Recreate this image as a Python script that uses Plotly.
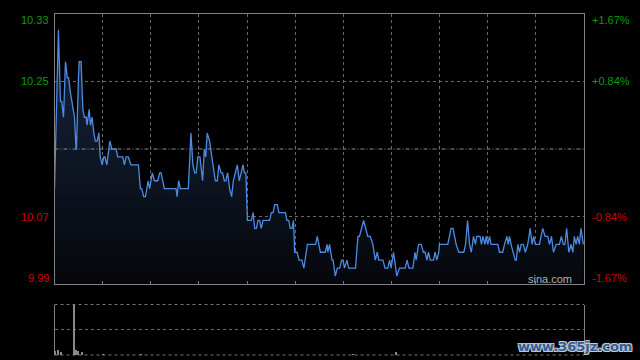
import plotly.graph_objects as go

# ---- data ----
minutes = [
    0.0, 1.8, 2.7, 3.3, 4.1, 5.0, 5.8, 6.4, 7.3, 8.3, 9.1, 9.8, 10.0, 10.9, 11.2, 12.1, 12.9, 13.6,
    14.4, 14.8, 15.8, 16.4, 17.1, 17.9, 18.6, 19.4, 20.2, 20.8, 21.7, 22.4, 23.0, 23.8, 25.2, 26.1,
    28.0, 28.8, 31.1, 31.8, 32.6, 33.6, 34.8, 38.2, 39.1, 39.7, 40.6, 41.4, 42.6, 43.3, 44.5, 45.5,
    47.0, 47.9, 48.5, 50.0, 55.3, 55.8, 56.5, 57.3, 60.9, 62.1, 63.0, 63.8, 64.5, 65.2, 66.2, 67.4,
    68.2, 68.8, 69.5, 70.6, 72.1, 73.2, 74.1, 74.8, 75.8, 76.5, 77.3, 78.0, 78.8, 79.7, 80.6, 81.4,
    82.3, 83.2, 84.1, 84.8, 85.8, 86.4, 87.1, 87.8, 89.6, 90.4, 91.1, 91.9, 92.6, 93.4, 94.1, 94.9,
    97.9, 98.7, 99.5, 100.2, 101.4, 102.2, 105.1, 105.8, 106.6, 107.3, 108.1, 108.8, 109.3, 110.4,
    111.3, 112.6, 113.5, 115.1, 118.8, 119.6, 121.0, 123.2, 124.1, 124.4, 125.2, 126.3, 126.8, 127.8,
    128.7, 129.8, 130.7, 131.3, 132.0, 133.1, 133.9, 137.0, 138.1, 138.8, 140.7, 142.6, 143.7, 144.9,
    146.0, 146.9, 147.6, 149.5, 150.4, 151.7, 152.5, 153.2, 154.3, 155.8, 157.0, 159.6, 160.5, 161.3,
    163.1, 164.1, 164.6, 165.7, 166.9, 167.9, 168.7, 169.5, 170.2, 171.0, 172.5, 173.2, 174.0, 174.9,
    175.2, 179.0, 180.5, 181.4, 182.1, 182.8, 184.0, 186.3, 187.1, 188.0, 188.9, 189.7, 190.7, 191.6,
    192.2, 193.7, 194.3, 195.0, 195.9, 196.5, 197.2, 198.0, 198.7, 201.8, 202.5, 204.0, 204.8, 205.9,
    206.5, 207.1, 207.8, 208.6, 209.7, 210.2, 210.9, 211.6, 212.4, 213.4, 214.3, 215.4, 216.5, 217.4,
    218.1, 218.9, 220.7, 222.2, 223.3, 224.5, 225.3, 226.2, 227.1, 228.3, 229.8, 230.7, 231.6, 232.3,
    233.1, 234.1, 235.1, 235.9, 236.6, 237.4, 238.1, 238.9, 239.6, 240.7,
]
prices = [
    10.11, 10.31, 10.22, 10.22, 10.20, 10.27, 10.25, 10.25, 10.23, 10.21, 10.20, 10.16, 10.16, 10.25, 10.27, 10.27, 10.21, 10.20,
    10.20, 10.19, 10.21, 10.19, 10.20, 10.18, 10.17, 10.17, 10.18, 10.15, 10.14, 10.15, 10.15, 10.14, 10.17, 10.16,
    10.16, 10.15, 10.15, 10.14, 10.15, 10.15, 10.14, 10.14, 10.11, 10.11, 10.10, 10.10, 10.12, 10.11, 10.13, 10.12,
    10.12, 10.13, 10.13, 10.11, 10.11, 10.10, 10.12, 10.11, 10.11, 10.18, 10.14, 10.13, 10.13, 10.15, 10.15, 10.12,
    10.16, 10.15, 10.18, 10.17, 10.14, 10.12, 10.12, 10.14, 10.13, 10.13, 10.12, 10.12, 10.13, 10.11, 10.10, 10.12,
    10.13, 10.14, 10.12, 10.13, 10.14, 10.13, 10.13, 10.07, 10.07, 10.08, 10.06, 10.06, 10.07, 10.07, 10.06, 10.07,
    10.07, 10.08, 10.08, 10.09, 10.09, 10.08, 10.08, 10.07, 10.07, 10.06, 10.06, 10.07, 10.03, 10.03,
    10.02, 10.02, 10.01, 10.04, 10.04, 10.05, 10.03, 10.03, 10.04, 10.03, 10.04, 10.02, 10.02, 10.00,
    10.01, 10.01, 10.02, 10.02, 10.01, 10.02, 10.01, 10.01, 10.05, 10.05, 10.07, 10.05, 10.05, 10.04,
    10.02, 10.03, 10.02, 10.02, 10.01, 10.01, 10.02, 10.01, 10.03, 10.00, 10.01, 10.01, 10.02, 10.01,
    10.01, 10.03, 10.02, 10.04, 10.04, 10.03, 10.03, 10.02, 10.03, 10.02, 10.02, 10.03, 10.02, 10.03,
    10.04, 10.04, 10.06, 10.06, 10.05, 10.04, 10.03, 10.03, 10.04, 10.07, 10.04, 10.03, 10.05, 10.04,
    10.05, 10.05, 10.04, 10.05, 10.04, 10.05, 10.04, 10.05, 10.04, 10.04, 10.03, 10.03, 10.04, 10.05,
    10.04, 10.05, 10.04, 10.03, 10.02, 10.02, 10.04, 10.03, 10.04, 10.04, 10.03, 10.04, 10.06, 10.04,
    10.05, 10.04, 10.04, 10.06, 10.05, 10.05, 10.04, 10.05, 10.03, 10.04, 10.04, 10.05, 10.04, 10.04,
    10.06, 10.03, 10.04, 10.03, 10.05, 10.04, 10.05, 10.04, 10.06, 10.04,
]
vol_minutes = [0.0, 1.3, 2.6, 8.6, 9.5, 10.6, 12.2, 22.0, 39.0, 135.5, 155.3]
volumes = [8, 10, 6, 100, 10, 8, 6, 3, 3, 3, 6]

prev_close = 10.16
price_min, price_max = 9.99, 10.33
grid_prices = [10.075, 10.245]
left_labels = ["10.33", "10.25", "10.07", "9.99"]
right_labels = ["+1.67%", "+0.84%", "-0.84%", "-1.67%"]
label_prices = [10.33, 10.245, 10.075, 9.99]
label_colors = ["#0a9e0a", "#0a9e0a", "#d00000", "#d00000"]
n_minutes = 241

W, H = 640, 360
FONT = "Liberation Sans, Arial, sans-serif"

fig = go.Figure()
fig.add_trace(go.Scatter(
    x=minutes, y=prices, mode="lines",
    line=dict(color="#4d8be2", width=1.3),
    fill="tozeroy",
    fillgradient=dict(type="vertical", start=price_min, stop=price_max - 0.02,
                      colorscale=[[0, "#05070b"], [1, "#17263f"]]),
    xaxis="x", yaxis="y", hoverinfo="skip", showlegend=False,
))
fig.add_trace(go.Bar(
    x=vol_minutes, y=volumes, width=0.45,
    marker=dict(color="#8a8a8a", line=dict(width=0)),
    xaxis="x2", yaxis="y2", hoverinfo="skip", showlegend=False,
))

xdom = [54.5 / W, 584 / W]
grid_x = [n_minutes * k / 11 for k in range(1, 11)]
fig.update_layout(
    width=W, height=H,
    margin=dict(l=0, r=0, t=0, b=0),
    paper_bgcolor="black", plot_bgcolor="black",
    xaxis=dict(domain=xdom, range=[0, n_minutes], tickvals=grid_x, showticklabels=False,
               showgrid=True, gridcolor="#6a6a6a", griddash="dot", gridwidth=1,
               ticks="inside", ticklen=3, tickcolor="#777",
               showline=True, linecolor="#808080", linewidth=1, mirror=True, zeroline=False),
    yaxis=dict(domain=[1 - 284 / H, 1 - 14 / H], range=[price_min, price_max],
               tickvals=grid_prices, showticklabels=False,
               showgrid=True, gridcolor="#6a6a6a", griddash="dot", gridwidth=1,
               showline=True, linecolor="#808080", linewidth=1, mirror=True, zeroline=False),
    xaxis2=dict(domain=xdom, range=[0, n_minutes], anchor="y2", showticklabels=False,
                showgrid=False, zeroline=False, showline=False),
    yaxis2=dict(domain=[1 - 355 / H, 1 - 304.5 / H], range=[0, 100], anchor="x2",
                tickvals=[50], showticklabels=False,
                showgrid=True, gridcolor="#6a6a6a", griddash="dot", gridwidth=1,
                showline=True, linecolor="#808080", linewidth=1, mirror=True, zeroline=False),
    bargap=0,
)
# previous close line
fig.add_shape(type="line", xref="x", yref="y", x0=0, x1=n_minutes, y0=prev_close, y1=prev_close,
              line=dict(color="#8a8a8a", width=1, dash="4px,2px,1px,2px"))
# volume panel top / bottom dotted frame lines
for yv in (0, 1):
    fig.add_shape(type="line", xref="x2 domain", yref="y2 domain", x0=0, x1=1, y0=yv, y1=yv,
                  line=dict(color="#777777", width=1, dash="dot"), layer="below")

shifts = [-6, 0, 0, 6]
for lp, ll, rl, c, s in zip(label_prices, left_labels, right_labels, label_colors, shifts):
    fig.add_annotation(xref="paper", yref="y", x=51 / W, y=lp, yshift=s, text=ll, showarrow=False,
                       xanchor="right", yanchor="middle", font=dict(family=FONT, size=11, color=c))
    fig.add_annotation(xref="paper", yref="y", x=590 / W, y=lp, yshift=s, text=rl, showarrow=False,
                       xanchor="left", yanchor="middle", font=dict(family=FONT, size=11, color=c))

fig.add_annotation(xref="paper", yref="paper", x=574 / W, y=1 - 279 / H, text="sina.com", showarrow=False,
                   xanchor="right", yanchor="middle", font=dict(family=FONT, size=11, color="#b0b0b0"))
fig.add_annotation(xref="paper", yref="paper", x=634 / W, y=1 - 346 / H, text="www.365jz.com", showarrow=False,
                   xanchor="right", yanchor="middle",
                   font=dict(family="DejaVu Sans", size=13, color="#2f5d9e", weight="bold",
                             shadow="-1px -1px 0 #c8c8c8, 1px -1px 0 #c8c8c8, -1px 1px 0 #c8c8c8, 1px 1px 0 #c8c8c8"))

fig.write_html(
    "out.html",
    config={"displayModeBar": False},
    post_script="document.body.style.margin='0';document.body.style.overflow='hidden';document.body.style.background='black';",
)
